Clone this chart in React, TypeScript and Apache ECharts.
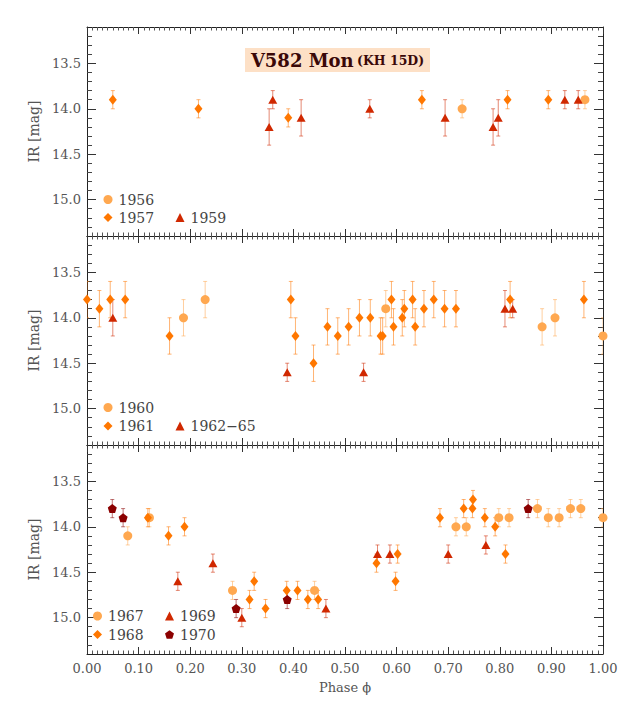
import React, { useEffect, useRef } from "react";
import * as echarts from "echarts";

// ---- Data: [phase, IR mag, error] ----
const p1_1956 = [[0.727, 14.0, 0.1], [0.965, 13.9, 0.1]];
const p1_1957 = [[0.05, 13.9, 0.1], [0.216, 14.0, 0.1], [0.39, 14.1, 0.1], [0.649, 13.9, 0.1], [0.815, 13.9, 0.1], [0.894, 13.9, 0.1]];
const p1_1959 = [[0.353, 14.2, 0.2], [0.36, 13.9, 0.1], [0.415, 14.1, 0.2], [0.548, 14.0, 0.1], [0.694, 14.1, 0.2], [0.787, 14.2, 0.2], [0.797, 14.1, 0.2], [0.926, 13.9, 0.1], [0.952, 13.9, 0.1]];

const p2_1960 = [[0.187, 14.0, 0.2], [0.229, 13.8, 0.2], [0.579, 13.9, 0.2], [0.882, 14.1, 0.2], [0.907, 14.0, 0.2], [1.0, 14.2, 0.2]];
const p2_1961 = [[0.0, 13.8, 0.2], [0.024, 13.9, 0.2], [0.045, 13.8, 0.2], [0.074, 13.8, 0.2], [0.16, 14.2, 0.2], [0.395, 13.8, 0.2], [0.404, 14.2, 0.2], [0.439, 14.5, 0.2], [0.466, 14.1, 0.2], [0.486, 14.2, 0.2], [0.507, 14.1, 0.2], [0.528, 14.0, 0.2], [0.549, 14.0, 0.2], [0.569, 14.2, 0.2], [0.573, 14.2, 0.2], [0.59, 13.8, 0.2], [0.594, 14.1, 0.2], [0.611, 14.0, 0.2], [0.615, 13.9, 0.2], [0.631, 13.8, 0.2], [0.636, 14.1, 0.2], [0.653, 13.9, 0.2], [0.672, 13.8, 0.2], [0.693, 13.9, 0.2], [0.715, 13.9, 0.2], [0.82, 13.8, 0.2], [0.963, 13.8, 0.2]];
const p2_1962_65 = [[0.05, 14.0, 0.2], [0.388, 14.6, 0.1], [0.536, 14.6, 0.1], [0.81, 13.9, 0.2], [0.825, 13.9, 0.1]];

const p3_1967 = [[0.079, 14.1, 0.1], [0.121, 13.9, 0.1], [0.282, 14.7, 0.1], [0.441, 14.7, 0.1], [0.715, 14.0, 0.1], [0.735, 14.0, 0.1], [0.798, 13.9, 0.1], [0.818, 13.9, 0.1], [0.873, 13.8, 0.1], [0.894, 13.9, 0.1], [0.915, 13.9, 0.1], [0.937, 13.8, 0.1], [0.957, 13.8, 0.1], [1.0, 13.9, 0.1]];
const p3_1968 = [[0.118, 13.9, 0.1], [0.158, 14.1, 0.1], [0.189, 14.0, 0.1], [0.315, 14.8, 0.1], [0.324, 14.6, 0.1], [0.346, 14.9, 0.1], [0.387, 14.7, 0.1], [0.408, 14.7, 0.1], [0.428, 14.8, 0.1], [0.448, 14.8, 0.1], [0.561, 14.4, 0.1], [0.598, 14.6, 0.1], [0.602, 14.3, 0.1], [0.684, 13.9, 0.1], [0.73, 13.8, 0.1], [0.747, 13.8, 0.1], [0.748, 13.7, 0.1], [0.771, 13.9, 0.1], [0.791, 14.0, 0.1], [0.811, 14.3, 0.1]];
const p3_1969 = [[0.176, 14.6, 0.1], [0.244, 14.4, 0.1], [0.3, 15.0, 0.1], [0.463, 14.9, 0.1], [0.563, 14.3, 0.1], [0.587, 14.3, 0.1], [0.7, 14.3, 0.1], [0.773, 14.2, 0.1]];
const p3_1970 = [[0.049, 13.8, 0.1], [0.07, 13.9, 0.1], [0.289, 14.9, 0.1], [0.388, 14.8, 0.1], [0.855, 13.8, 0.1]];

const majorY = [13.5, 14.0, 14.5, 15.0];
const minorY = [13.2, 13.3, 13.4, 13.6, 13.7, 13.8, 13.9, 14.1, 14.2, 14.3, 14.4, 14.6, 14.7, 14.8, 14.9, 15.1, 15.2, 15.3];

const C_CIRCLE = "#ffa850";
const C_DIAMOND = "#ff7700";
const C_TRI = "#d02800";
const C_PENT = "#8b0000";
const PENT = "path://M0,-1 L0.951,-0.309 L0.588,0.809 L-0.588,0.809 L-0.951,-0.309 Z";

const SERIF = "DejaVu Serif";

function seriesFor(name: string, data: number[][], symbol: string, color: string, size: any, g: number) {
  const err = {
    name: name + " err",
    type: "custom",
    xAxisIndex: 2 * g,
    yAxisIndex: 4 * g,
    clip: true,
    z: 2,
    encode: { x: 0, y: 1 },
    data,
    renderItem: (params: any, api: any) => {
      const x = api.value(0), y = api.value(1), e = api.value(2);
      const a = api.coord([x, y - e]);
      const b = api.coord([x, y + e]);
      const style = { stroke: color, lineWidth: 1, opacity: 0.55 };
      return {
        type: "group",
        children: [
          { type: "line", shape: { x1: a[0], y1: a[1], x2: b[0], y2: b[1] }, style },
          { type: "line", shape: { x1: a[0] - 2, y1: a[1], x2: a[0] + 2, y2: a[1] }, style },
          { type: "line", shape: { x1: b[0] - 2, y1: b[1], x2: b[0] + 2, y2: b[1] }, style },
        ],
      };
    },
  };
  const pts = {
    name,
    type: "scatter",
    xAxisIndex: 2 * g,
    yAxisIndex: 4 * g,
    clip: true,
    z: 3,
    symbol,
    symbolSize: size,
    itemStyle: { color, opacity: 1 },
    data: data.map((d) => [d[0], d[1]]),
  };
  return [err, pts];
}

const tops = [27, 236, 445];
const H = 209;

function buildOption() {
  const grid: any[] = [];
  const xAxis: any[] = [];
  const yAxis: any[] = [];
  for (let g = 0; g < 3; g++) {
    grid.push({ left: 87, right: 26, top: tops[g], height: H });
    for (const pos of ["bottom", "top"]) {
      const withLabel = g === 2 && pos === "bottom";
      xAxis.push({
        gridIndex: g,
        type: "value",
        position: pos,
        min: 0,
        max: 1,
        interval: 0.1,
        axisLine: { show: true, onZero: false, lineStyle: { color: "#222", width: 1 } },
        axisTick: { show: true, inside: true, length: 7, lineStyle: { color: "#333" } },
        minorTick: { show: true, splitNumber: 10, length: 3.5, lineStyle: { color: "#555" } },
        splitLine: { show: false },
        minorSplitLine: { show: false },
        axisLabel: {
          show: withLabel,
          margin: 8,
          fontFamily: SERIF,
          fontSize: 13,
          color: "#555",
          formatter: (v: number) => v.toFixed(2),
        },
        name: withLabel ? "Phase ϕ" : "",
        nameLocation: "middle",
        nameGap: 27,
        nameTextStyle: { fontFamily: SERIF, fontSize: 13, color: "#555" },
      });
    }
    for (const pos of ["left", "right"]) {
      const isLeft = pos === "left";
      yAxis.push({
        gridIndex: g,
        type: "value",
        position: pos,
        min: 13.1,
        max: 15.4,
        inverse: true,
        axisLine: { show: true, onZero: false, lineStyle: { color: "#222", width: 1 } },
        axisTick: { show: true, inside: true, length: 9, customValues: majorY, lineStyle: { color: "#333" } },
        axisLabel: {
          show: isLeft,
          customValues: majorY,
          margin: 6,
          fontFamily: SERIF,
          fontSize: 13,
          color: "#555",
          formatter: (v: number) => v.toFixed(1),
        },
        splitLine: { show: false },
        name: isLeft ? "IR [mag]" : "",
        nameLocation: "middle",
        nameRotate: 90,
        nameGap: 44,
        nameTextStyle: { fontFamily: SERIF, fontSize: 14, color: "#555" },
      });
      yAxis.push({
        gridIndex: g,
        type: "value",
        position: pos,
        min: 13.1,
        max: 15.4,
        inverse: true,
        axisLine: { show: false, onZero: false },
        axisTick: { show: true, inside: true, length: 5, customValues: minorY, lineStyle: { color: "#444" } },
        axisLabel: { show: false },
        splitLine: { show: false },
      });
    }
  }

  const series: any[] = [
    ...seriesFor("1956", p1_1956, "circle", C_CIRCLE, 9, 0),
    ...seriesFor("1957", p1_1957, "diamond", C_DIAMOND, [8, 10], 0),
    ...seriesFor("1959", p1_1959, "triangle", C_TRI, [9, 8], 0),
    ...seriesFor("1960", p2_1960, "circle", C_CIRCLE, 9, 1),
    ...seriesFor("1961", p2_1961, "diamond", C_DIAMOND, [8, 10], 1),
    ...seriesFor("1962−65", p2_1962_65, "triangle", C_TRI, [9, 8], 1),
    ...seriesFor("1967", p3_1967, "circle", C_CIRCLE, 9, 2),
    ...seriesFor("1968", p3_1968, "diamond", C_DIAMOND, [8, 10], 2),
    ...seriesFor("1969", p3_1969, "triangle", C_TRI, [9, 8], 2),
    ...seriesFor("1970", p3_1970, PENT, C_PENT, 9, 2),
  ];

  const leg = (name: string, cx: number, cy: number) => ({
    data: [name],
    left: cx - 4.5,
    top: cy - 7.5,
    orient: "horizontal",
    itemWidth: 9,
    itemHeight: 9,
    selectedMode: false,
    padding: 0,
    textStyle: { fontFamily: SERIF, fontSize: 14, color: "#444", padding: [0, 0, 0, 1] },
  });

  const legend = [
    leg("1956", 108, 200),
    leg("1957", 108, 218),
    leg("1959", 180, 218),
    leg("1960", 108, 408),
    leg("1961", 108, 426.5),
    leg("1962−65", 180, 426.5),
    leg("1967", 97.5, 616.5),
    leg("1968", 97.5, 635),
    leg("1969", 169.5, 616.5),
    leg("1970", 169.5, 635),
  ];

  const graphic = [
    {
      type: "rect",
      shape: { x: 245, y: 48, width: 185, height: 24 },
      style: { fill: "#fde0c6" },
      z: 10,
    },
    {
      type: "text",
      x: 337.5,
      y: 60.5,
      z: 11,
      style: {
        text: "{a|V582 Mon} {b|(KH 15D)}",
        align: "center",
        verticalAlign: "middle",
        textAlign: "center",
        textVerticalAlign: "middle",
        rich: {
          a: { fontFamily: SERIF, fontWeight: "bold", fontSize: 18, fill: "#3a0808", color: "#3a0808" },
          b: { fontFamily: SERIF, fontWeight: "bold", fontSize: 12.5, fill: "#3a0808", color: "#3a0808" },
        },
      },
    },
  ];

  return { animation: false, grid, xAxis, yAxis, series, legend, graphic };
}

export default function App() {
  const ref = useRef<HTMLDivElement>(null);
  useEffect(() => {
    if (!ref.current) return;
    const chart = echarts.init(ref.current, undefined, { renderer: "svg" });
    chart.setOption(buildOption() as any);
    return () => chart.dispose();
  }, []);
  return (
    <div
      ref={ref}
      style={{ position: "fixed", left: 0, top: 0, width: 629, height: 709, background: "#fff" }}
    />
  );
}
